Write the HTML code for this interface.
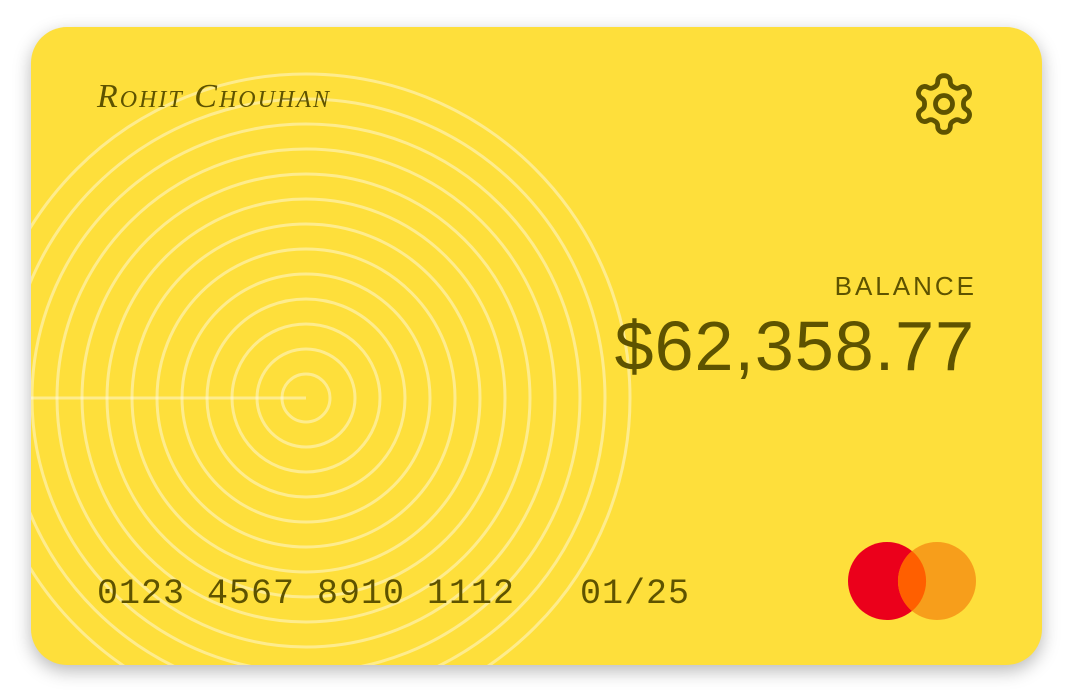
<!DOCTYPE html>
<html><head><meta charset="utf-8"><style>
html,body{margin:0;padding:0;background:#fff;width:1072px;height:699px;overflow:hidden}
.card{position:absolute;left:31px;top:27px;width:1011px;height:638px;border-radius:36px;background:#FEDF3B;box-shadow:0 6px 18px rgba(0,0,0,0.28);overflow:hidden}
.t{position:absolute;color:#5e5300;font-family:"Liberation Sans",sans-serif;white-space:nowrap}
</style></head><body>
<div class="card">
<svg width="1011" height="638" style="position:absolute;left:0;top:0">
<g id="rings" fill="none" stroke="rgba(255,255,255,0.42)" stroke-width="3"></g>
<line x1="0" y1="371" x2="275" y2="371" stroke="rgba(255,255,255,0.42)" stroke-width="3"/>
</svg>
<div class="t" style="left:66px;top:51px;font-family:'Liberation Serif',serif;font-style:italic;font-variant:small-caps;font-size:34px;letter-spacing:2px">Rohit Chouhan</div>
<svg style="position:absolute;left:879px;top:43px" width="68" height="68" viewBox="0 0 24 24" fill="none" stroke="#5e5300" stroke-width="1.7" stroke-linecap="round" stroke-linejoin="round"><path d="M12.22 2h-.44a2 2 0 0 0-2 2v.18a2 2 0 0 1-1 1.73l-.43.25a2 2 0 0 1-2 0l-.15-.08a2 2 0 0 0-2.730.73l-.22.38a2 2 0 0 0 .73 2.73l.15.1a2 2 0 0 1 1 1.72v.51a2 2 0 0 1-1 1.74l-.15.09a2 2 0 0 0-.73 2.730l.22.38a2 2 0 0 0 2.73.73l.15-.08a2 2 0 0 1 2 0l.43.25a2 2 0 0 1 1 1.730V20a2 2 0 0 0 2 2h.44a2 2 0 0 0 2-2v-.18a2 2 0 0 1 1-1.73l.43-.25a2 2 0 0 1 2 0l.15.08a2 2 0 0 0 2.73-.73l.22-.39a2 2 0 0 0-.73-2.73l-.15-.08a2 2 0 0 1-1-1.74v-.5a2 2 0 0 1 1-1.74l.15-.09a2 2 0 0 0 .73-2.73l-.22-.38a2 2 0 0 0-2.73-.73l-.15.08a2 2 0 0 1-2 0l-.43-.25a2 2 0 0 1-1-1.73V4a2 2 0 0 0-2-2z"/><circle cx="12" cy="12" r="3"/></svg>
<div class="t" style="right:65px;top:244px;font-size:26px;letter-spacing:3px">BALANCE</div>
<div class="t" style="right:67px;top:279px;font-size:70px;letter-spacing:1px">$62,358.77</div>
<div class="t" style="left:66px;top:547px;font-family:'Liberation Mono',monospace;font-size:35px;letter-spacing:1px">0123 4567 8910 1112</div>
<div class="t" style="left:549px;top:547px;font-family:'Liberation Mono',monospace;font-size:35px;letter-spacing:1px">01/25</div>
<svg style="position:absolute;left:817px;top:514px" width="130" height="80">
<circle cx="39" cy="40" r="39" fill="#EB001B"/>
<circle cx="89" cy="40" r="39" fill="#F79E1B"/>
<path d="M64 10 A39 39 0 0 1 64 70 A39 39 0 0 1 64 10 Z" fill="#FF5F00"/>
</svg>
</div>
<script>
const ringRadii=[24,49,74,99,124,149,174,199,224,249,274,299,324];
const g=document.getElementById('rings');
ringRadii.forEach(r=>{
const c=document.createElementNS('http://www.w3.org/2000/svg','circle');


c.setAttribute('cx',275);c.setAttribute('cy',371);c.setAttribute('r',r);
g.appendChild(c);
});
</script>
</body></html>
